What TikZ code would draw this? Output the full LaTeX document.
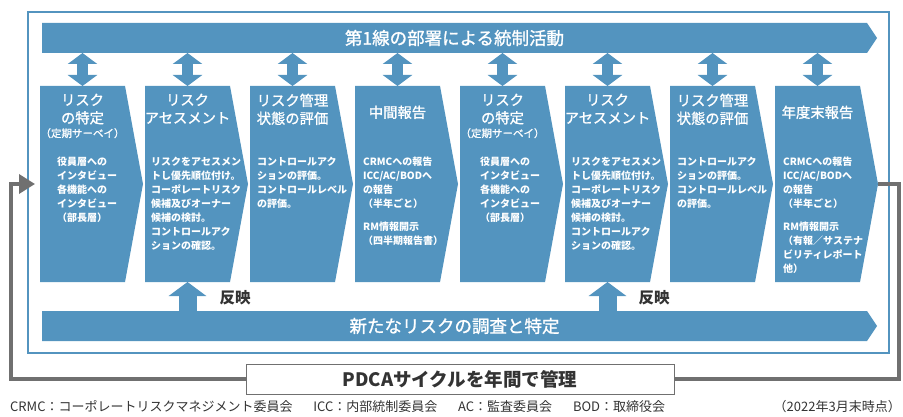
\documentclass[tikz,border=0pt]{standalone}
\usepackage{fontspec}
\setmainfont{Noto Sans CJK JP}
\newfontfamily\midfont{Noto Sans CJK JP}[FakeBold=1.2]
\usepackage{tikz}
\usetikzlibrary{calc}
\usetikzlibrary{arrows.meta}
\usetikzlibrary{shapes.symbols}
\definecolor{riskblue}{RGB}{83,148,191}
\definecolor{loopgray}{RGB}{112,112,112}
\definecolor{darktext}{RGB}{51,51,51}
\newcommand{\widthchevron}{103pt}
\newcommand{\heightchevron}{196pt}
\newcommand{\widthbanner}{835pt}
\tikzset{
    common/.style={signal, signal to=east, fill=riskblue, inner sep=0pt, outer sep=0pt, anchor=west},
    chevron/.style={common, signal pointer angle=159.2, minimum width=\widthchevron, minimum height=\heightchevron},
    banner/.style={common, signal pointer angle=112.6, minimum width=\widthbanner, minimum height=30pt, text=white, font=\midfont\fontsize{17.5}{20}\selectfont},
    title/.style={anchor=north, inner sep=0pt, text=white, align=center, font=\midfont\fontsize{14.3}{18}\selectfont},
    subtitle/.style={title, font=\midfont\fontsize{10.5}{12}\selectfont},
    body/.style={anchor=north west, inner sep=0pt, text=white, align=left, font=\fontsize{10}{14}\selectfont\bfseries},
    sync/.style={{Triangle[width=29pt,length=11pt]}-{Triangle[width=29pt,length=11pt]}, line width=11pt, riskblue},
    feed/.style={-{Triangle[width=37pt,length=14pt]}, line width=18pt, riskblue},
    reflect-label/.style={inner sep=0pt, text=darktext, font=\fontsize{15.5}{18}\selectfont\bfseries},
    pdca-loop/.style={line width=3.5pt, loopgray},
    pdcabox/.style={draw=loopgray, fill=white, line width=1pt, minimum width=428pt, minimum height=30pt, text=darktext, font=\fontsize{18.5}{20}\selectfont\bfseries},
    notetext/.style={inner sep=0pt, text=darktext, font=\fontsize{13}{15}\selectfont}
}

\begin{document}
\begin{tikzpicture}[x=1pt, y=-1pt]
      \useasboundingbox (0,0) rectangle (903,417);
      \draw[riskblue, line width=2.5pt] (28,12) rectangle (889,353);

      \path
          (42,38) node[banner] (top) {第1線の部署による統制活動}
          (42,326) node[banner] (bottom) {新たなリスクの調査と特定};

      \path
          (40,184) node[chevron] (c1) {}
          +(42.5,-90.5) node[title] (t1) {リスク\\の特定}
          +(42.5,-56) node[subtitle] (s1) {（定期サーベイ）}
          +(17,-27.5) node[body] (b1) {役員層への\\インタビュー\\各機能への\\インタビュー\\（部長層）};

      \path
          (145,184) node[chevron] (c2) {}
          +(42.5,-90.5) node[title] (t2) {リスク\\アセスメント}
          +(6,-27.5) node[body] (b2) {リスクをアセスメン\\トし優先順位付け。\\コーポレートリスク\\候補及びオーナー\\候補の検討。\\コントロールアク\\ションの確認。};

      \path
          (250,184) node[chevron] (c3) {}
          +(42.5,-90.5) node[title] (t3) {リスク管理\\状態の評価}
          +(7,-27.5) node[body] (b3) {コントロールアク\\ションの評価。\\コントロールレベル\\の評価。};

      \path
          (355,184) node[chevron] (c4) {}
          +(42.5,-78.5) node[title] (t4) {中間報告}
          +(8,-27.5) node[body] (b4) {CRMCへの報告\\ICC/AC/BODへ\\の報告\\（半年ごと）\\[9pt]RM情報開示\\（四半期報告書）};

      \path
          (460,184) node[chevron] (c5) {}
          +(42.5,-90.5) node[title] (t5) {リスク\\の特定}
          +(42.5,-56) node[subtitle] (s5) {（定期サーベイ）}
          +(20,-27.5) node[body] (b5) {役員層への\\インタビュー\\各機能への\\インタビュー\\（部長層）};

      \path
          (565,184) node[chevron] (c6) {}
          +(42.5,-90.5) node[title] (t6) {リスク\\アセスメント}
          +(6,-27.5) node[body] (b6) {リスクをアセスメン\\トし優先順位付け。\\コーポレートリスク\\候補及びオーナー\\候補の検討。\\コントロールアク\\ションの確認。};

      \path
          (670,184) node[chevron] (c7) {}
          +(42.5,-90.5) node[title] (t7) {リスク管理\\状態の評価}
          +(7,-27.5) node[body] (b7) {コントロールアク\\ションの評価。\\コントロールレベル\\の評価。};

      \path
          (775,184) node[chevron] (c8) {}
          +(42.5,-78.5) node[title] (t8) {年度末報告}
          +(8,-27.5) node[body] (b8) {CRMCへの報告\\ICC/AC/BODへ\\の報告\\（半年ごと）\\[9pt]RM情報開示\\（有報／サステナ\\ビリティレポート\\他）};

      % first line <-> each step
      \draw[sync] (t1 |- top.south) -- (t1 |- c1.north);
      \draw[sync] (t2 |- top.south) -- (t2 |- c2.north);
      \draw[sync] (t3 |- top.south) -- (t3 |- c3.north);
      \draw[sync] (t4 |- top.south) -- (t4 |- c4.north);
      \draw[sync] (t5 |- top.south) -- (t5 |- c5.north);
      \draw[sync] (t6 |- top.south) -- (t6 |- c6.north);
      \draw[sync] (t7 |- top.south) -- (t7 |- c7.north);
      \draw[sync] (t8 |- top.south) -- (t8 |- c8.north);

      % new risks fed into the assessments
      \draw[feed] (t2 |- bottom.north) -- (t2 |- c2.south);
      \draw[feed] (t6 |- bottom.north) -- (t6 |- c6.south);
      \path
          (235,298) node[reflect-label] (r1) {反映}
          (654,298) node[reflect-label] (r2) {反映};

      % yearly PDCA loop
      \coordinate (loop-right) at (899,184);
      \coordinate (loop-left) at (11,184);
      \node[pdcabox] (pdca) at (460,379) {PDCAサイクルを年間で管理};
      \draw[pdca-loop] (c8.east) -- (loop-right) |- (pdca.east);
      \draw[pdca-loop, -{Triangle[width=19pt,length=16pt]}, shorten >=5pt] (pdca.west) -| (loop-left) -- (c1.west);

      \path
          (10,407) node[notetext, anchor=west] (legend) {CRMC：コーポレートリスクマネジメント委員会\hspace{1.6em}ICC：内部統制委員会\hspace{1.6em}AC：監査委員会\hspace{1.6em}BOD：取締役会}
          (901,407) node[notetext, anchor=east] (asof) {（2022年3月末時点）};
\end{tikzpicture}
\end{document}
